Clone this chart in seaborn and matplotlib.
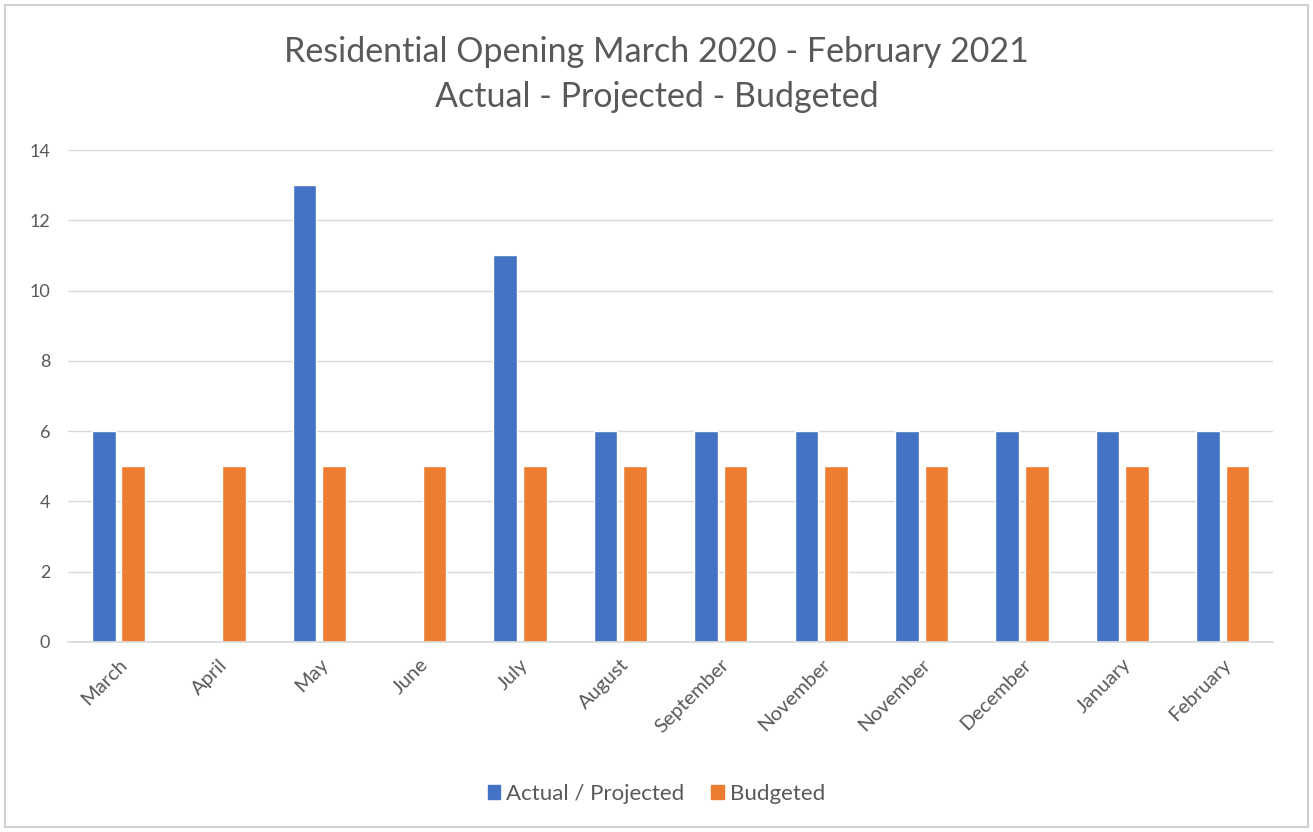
import numpy as np
import pandas as pd
import seaborn as sns
import matplotlib.pyplot as plt
from matplotlib import font_manager
from matplotlib.patches import Rectangle

months = ["March", "April", "May", "June", "July", "August", "September",
          "November", "November", "December", "January", "February"]
actual_projected = [6, np.nan, 13, np.nan, 11, 6, 6, 6, 6, 6, 6, 6]
budgeted = [5, 5, 5, 5, 5, 5, 5, 5, 5, 5, 5, 5]
series_names = ["Actual / Projected", "Budgeted"]
y_ticks = [0, 2, 4, 6, 8, 10, 12, 14]

installed = {f.name for f in font_manager.fontManager.ttflist}
family = next((f for f in ["Liberation Sans Narrow", "Lato", "Open Sans"] if f in installed), "DejaVu Sans")

sns.set_theme(style="white")
plt.rcParams["font.family"] = [family, "DejaVu Sans"]

slots = list(range(len(months)))
df = pd.DataFrame({
    "slot": slots * 2,
    "value": actual_projected + budgeted,
    "series": [series_names[0]] * len(months) + [series_names[1]] * len(months),
})

fig = plt.figure(figsize=(13.13, 8.32), dpi=100)
ax = fig.add_axes([0.052, 0.2284, 0.9175, 0.5913])

sns.barplot(data=df, x="slot", y="value", hue="series", order=slots,
            hue_order=series_names, palette=["#4472C4", "#ED7D31"],
            saturation=1, width=0.59, gap=0.2, ax=ax, legend=False)

text_col = "#595959"
ax.set_ylim(0, 14)
ax.set_xlim(-0.5, len(months) - 0.5)
ax.set_yticks(y_ticks)
ax.set_yticklabels([str(t) for t in y_ticks], color=text_col, fontsize=13)
ax.set_xticks(slots)
ax.set_xticklabels(months, rotation=45, ha="right", rotation_mode="anchor",
                   color=text_col, fontsize=14.5)
ax.tick_params(axis="y", length=0, pad=13)
ax.tick_params(axis="x", length=0, pad=10)
ax.set_xlabel("")
ax.set_ylabel("")
ax.yaxis.grid(True, color="#D9D9D9", linewidth=1)
ax.set_axisbelow(True)
for s in ["top", "right", "left"]:
    ax.spines[s].set_visible(False)
ax.spines["bottom"].set_color("#D9D9D9")

fig.text(0.5, 0.937, "Residential Opening March 2020 - February 2021",
         ha="center", va="center", fontsize=24.5, color=text_col)
fig.text(0.5, 0.883, "Actual - Projected - Budgeted",
         ha="center", va="center", fontsize=24.5, color=text_col)

handles = [Rectangle((0, 0), 1, 1, color=c) for c in ["#4472C4", "#ED7D31"]]
fig.legend(handles, series_names, loc="center", bbox_to_anchor=(0.5, 0.046),
           ncol=2, frameon=False, fontsize=16, labelcolor=text_col,
           handlelength=0.55, handleheight=0.55, handletextpad=0.3, columnspacing=1.2)

fig.patches.append(Rectangle((0.004, 0.006), 0.992, 0.988, transform=fig.transFigure,
                             fill=False, edgecolor="#D0D0D0", linewidth=1.5))

fig.savefig("out.png", dpi=100)
